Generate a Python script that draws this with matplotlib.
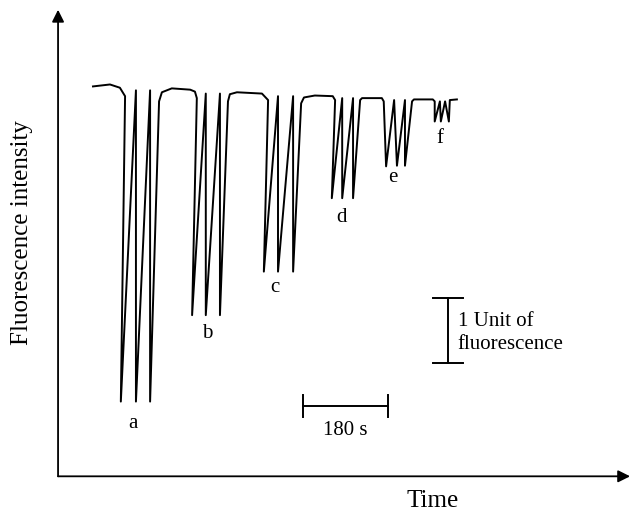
import numpy as np
import matplotlib
matplotlib.use("Agg")
import matplotlib.pyplot as plt

plt.rcParams['font.family'] = ['Liberation Serif', 'DejaVu Serif']

# trace: time (s) and fluorescence (units)
time_s = [74, 110, 131, 142,
          133, 165, 165, 195, 195, 214,              # a
          220, 241, 280, 290, 294,
          284, 313, 313, 343, 343, 360,              # b
          364, 379, 432, 445,
          436, 466, 466, 498, 498, 515,              # c
          521, 544, 582, 587,
          580, 602, 602, 625, 625, 640,              # d
          644, 686, 690,
          695, 712, 718, 735, 735, 750,              # e
          754, 794, 798,
          798, 809, 811, 820, 828, 830,              # f
          845]
intensity = [6.00, 6.03, 5.98, 5.85,
             1.15, 5.94, 1.15, 5.94, 1.15, 5.77,
             5.91, 5.97, 5.95, 5.92, 5.82,
             2.48, 5.89, 2.48, 5.89, 2.48, 5.77,
             5.88, 5.91, 5.89, 5.79,
             3.15, 5.85, 3.15, 5.85, 3.15, 5.74,
             5.83, 5.86, 5.85, 5.79,
             4.28, 5.82, 4.28, 5.82, 4.28, 5.79,
             5.82, 5.82, 5.77,
             4.77, 5.79, 4.78, 5.79, 4.78, 5.77,
             5.80, 5.80, 5.77,
             5.46, 5.77, 5.46, 5.77, 5.46, 5.79,
             5.80]

labels = ['a', 'b', 'c', 'd', 'e', 'f']
label_time = [159, 316, 460, 601, 710, 809]
label_level = [0.82, 2.20, 2.91, 3.99, 4.60, 5.20]

time_bar = 180       # s
unit_bar = 1.0       # fluorescence units

fig = plt.figure(figsize=(6.32, 5.14), dpi=100)
ax = fig.add_axes([0, 0, 1, 1])
ax.set_xlim(-123, 1216)
ax.set_ylim(-0.58, 7.33)
ax.axis('off')

# axes with arrow heads
arrow = dict(arrowstyle='-|>', color='black', lw=1.3, mutation_scale=18,
             shrinkA=0, shrinkB=0)
ax.annotate('', xy=(0, 7.18), xytext=(0, 0), arrowprops=arrow)
ax.annotate('', xy=(1212, 0), xytext=(0, 0), arrowprops=arrow)

ax.plot(time_s, intensity, color='black', lw=1.4, solid_joinstyle='round')

for lab, t, f in zip(labels, label_time, label_level):
    ax.text(t, f, lab, ha='center', va='center', fontsize=15)

# 180 s scale bar
x0 = 519
ax.plot([x0, x0 + time_bar], [1.08, 1.08], color='black', lw=1.4)
for xx in (x0, x0 + time_bar):
    ax.plot([xx, xx], [0.91, 1.25], color='black', lw=1.4)
ax.text(x0 + time_bar / 2, 0.71, '180 s', ha='center', va='center', fontsize=15)

# 1 unit scale bar
y0 = 1.74
ax.plot([826, 826], [y0, y0 + unit_bar], color='black', lw=1.4)
for yy in (y0, y0 + unit_bar):
    ax.plot([794, 858], [yy, yy], color='black', lw=1.4)
ax.text(847, 2.2, '1 Unit of\nfluorescence', ha='left', va='center',
        fontsize=15, linespacing=1.3)

fig.text(22 / 632, 1 - 233 / 514, 'Fluorescence intensity', rotation=90,
         ha='center', va='center', fontsize=18)
fig.text(433 / 632, 1 - 501 / 514, 'Time', ha='center', va='center', fontsize=18)

fig.savefig('out.png', dpi=100)
